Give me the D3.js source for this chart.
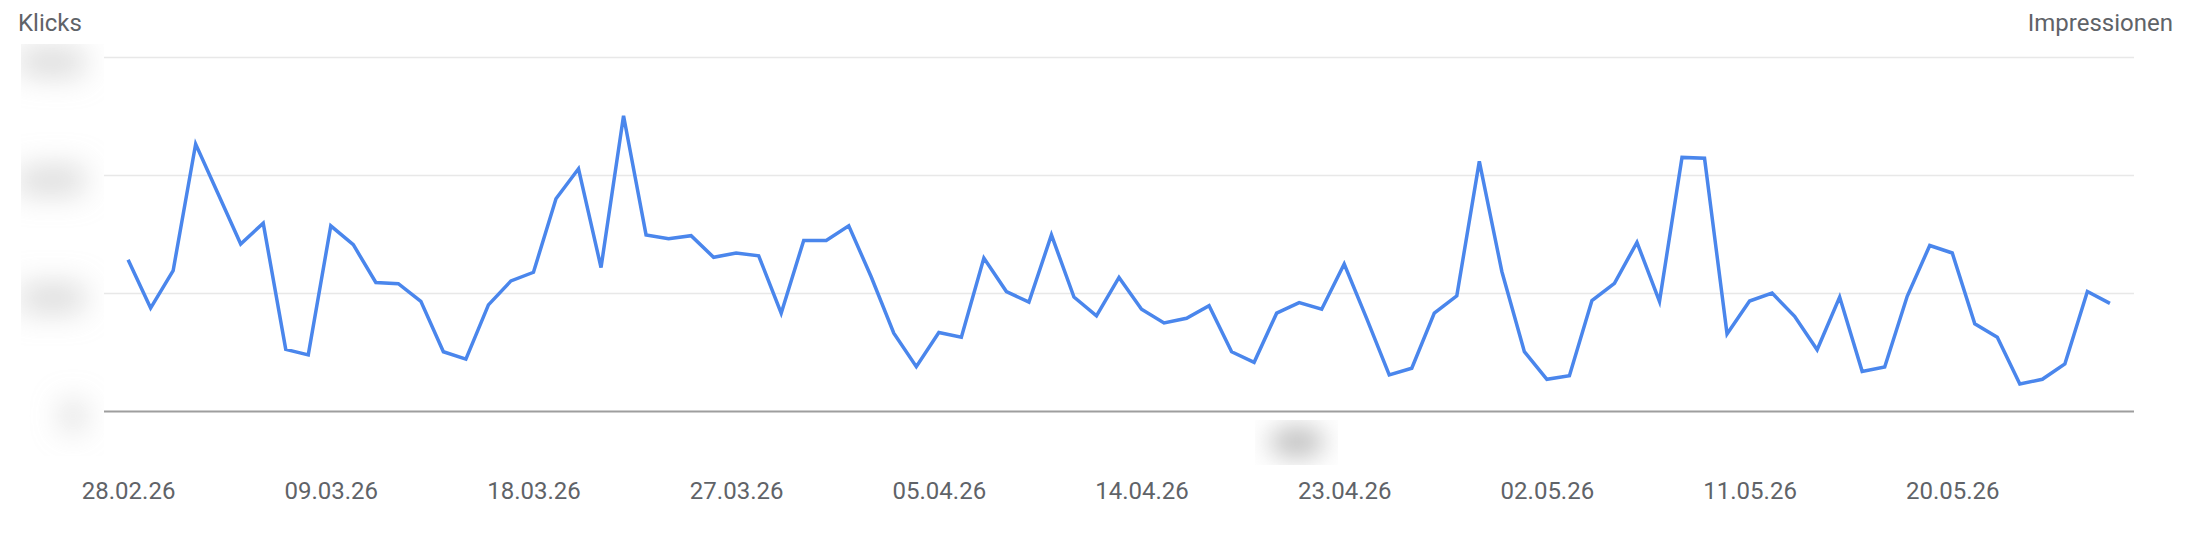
<!DOCTYPE html>
<html><head><meta charset="utf-8">
<script src="https://cdn.jsdelivr.net/npm/d3@7"></script>
<style>
html,body{margin:0;padding:0;background:#fff;}
svg{display:block;font-family:Roboto,"Noto Sans",sans-serif;}
</style></head>
<body><svg id="chart" width="2192" height="536"></svg>
<script>
// ---- data ----
const firstDay = "2026-02-28";
const lastDay = "2026-05-27";
const clicks = [386,263,358,680,553,426,479,158,144,472,
  424,328,325,280,152,133,271,332,354,541,
  617,366,752,449,439,447,392,403,396,250,
  435,435,472,342,199,114,201,189,390,305,
  278,449,291,243,341,260,225,237,269,152,
  125,250,277,260,375,236,93,110,250,294,
  636,356,152,82,91,282,326,430,280,646,
  644,197,281,301,242,157,291,102,113,293,
  422,403,223,189,70,82,121,305,275];
const xTickLabels = ["28.02.26","09.03.26","18.03.26","27.03.26","05.04.26","14.04.26","23.04.26","02.05.26","11.05.26","20.05.26"];
const yTickValues = [0,300,600,900];
const leftTitle = "Klicks";
const rightTitle = "Impressionen";

// ---- layout ----
const plotL = 104, plotR = 2134, plotT = 57.5, plotB = 411.5;
const svg = d3.select("#chart");

const parse = d3.utcParse("%Y-%m-%d");
const fmt = d3.utcFormat("%d.%m.%y");
const d0 = parse(firstDay), d1 = parse(lastDay);
const dates = d3.utcDay.range(d0, d3.utcDay.offset(d1, 1));
const data = dates.map((d, i) => ({date: d, v: clicks[i]}));

const pad = 1.07 * 864e5;
const x = d3.scaleUtc().domain([new Date(+d0 - pad), new Date(+d1 + pad)]).range([plotL, plotR]);
const y = d3.scaleLinear().domain([0, 900]).range([plotB, plotT]);

const defs = svg.append("defs");
// blur region limited to the label column (labels are obscured in the original)
defs.append("filter").attr("id","blur").attr("filterUnits","userSpaceOnUse")
  .attr("x",21).attr("y",44).attr("width",83).attr("height",412)
  .append("feGaussianBlur").attr("stdDeviation", 15);
defs.append("filter").attr("id","blur2").attr("filterUnits","userSpaceOnUse")
  .attr("x",1255).attr("y",420).attr("width",83).attr("height",45)
  .append("feGaussianBlur").attr("stdDeviation", 13);

// gridlines
svg.append("g").selectAll("line").data(yTickValues.filter(v => v > 0)).join("line")
  .attr("x1", plotL).attr("x2", plotR)
  .attr("y1", d => y(d)).attr("y2", d => y(d))
  .attr("stroke", "#e8e8e8").attr("stroke-width", 1.5);

// baseline
svg.append("line").attr("x1", plotL).attr("x2", plotR).attr("y1", y(0)).attr("y2", y(0))
  .attr("stroke", "#9e9e9e").attr("stroke-width", 2);

// blurred y labels
const yAxis = d3.axisLeft(y).tickValues(yTickValues).tickSize(0).tickPadding(0);
svg.append("g").attr("filter","url(#blur)")
  .append("g").attr("transform", `translate(${plotL - 20},6)`).call(yAxis)
  .call(g => g.select(".domain").remove())
  .call(g => g.selectAll("text").attr("font-size", 38).attr("font-weight", 900)
    .attr("fill", "#bdbdbd").attr("font-family","Roboto"));

// blurred annotation marker under axis
svg.append("ellipse").attr("cx", 1297).attr("cy", 442).attr("rx", 28).attr("ry", 15)
  .attr("fill", "#bcbcbc").attr("filter","url(#blur2)");

// x axis
const tickDates = xTickLabels.map(s => d3.utcParse("%d.%m.%y")(s));
const xAxis = d3.axisBottom(x).tickValues(tickDates).tickFormat(fmt).tickSize(0).tickPadding(0);
svg.append("g").attr("transform", "translate(0,499)").call(xAxis)
  .call(g => g.select(".domain").remove())
  .call(g => g.selectAll("text").attr("dy", 0).attr("font-size", 24).attr("fill", "#5f6368").attr("font-family","Roboto"));

// line
const line = d3.line().x(d => x(d.date)).y(d => y(d.v));
svg.append("path").datum(data).attr("d", line)
  .attr("fill", "none").attr("stroke", "#4a86ec").attr("stroke-width", 3.5)
  .attr("stroke-linejoin", "miter").attr("stroke-linecap", "butt");

// titles
svg.append("text").attr("x", 18).attr("y", 31).text(leftTitle)
  .attr("font-size", 24).attr("fill", "#5f6368");
svg.append("text").attr("x", 2173).attr("y", 31).attr("text-anchor","end").text(rightTitle)
  .attr("font-size", 24).attr("fill", "#5f6368");
</script>
</body></html>
